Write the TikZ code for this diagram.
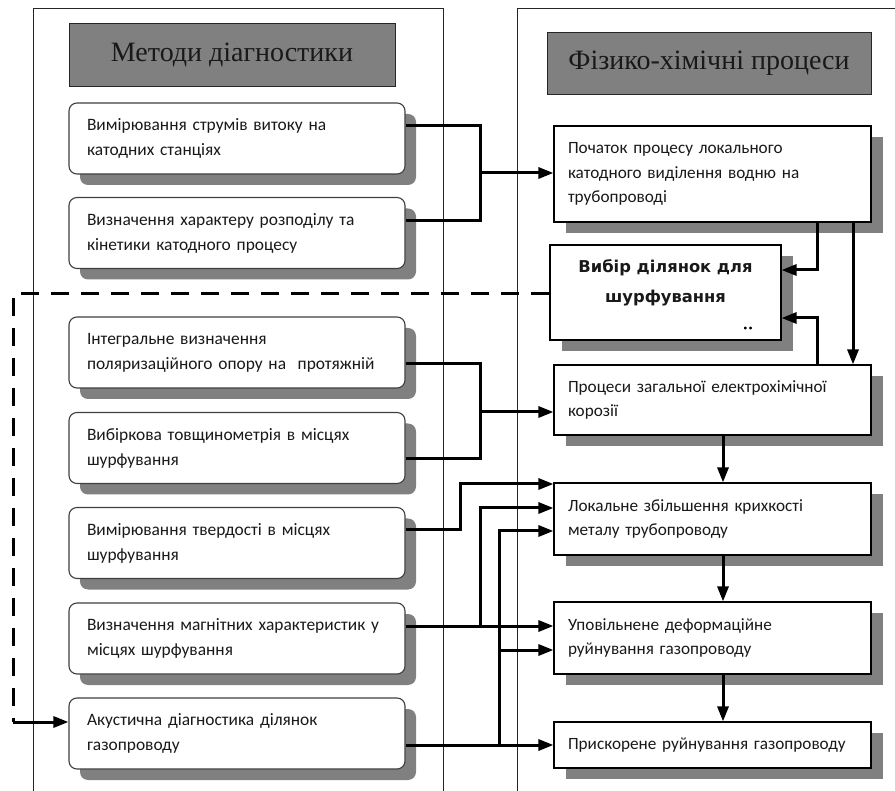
\documentclass[tikz,border=0pt]{standalone}
\usepackage{fontspec}
\setmainfont{Carlito}
\newfontfamily\hdrfont{Liberation Serif}
\newfontfamily\boldfont{DejaVu Sans}
\usetikzlibrary{shadows,arrows.meta}
\begin{document}
\begin{tikzpicture}[x=1pt,y=-1pt,
  panel/.style={draw=black!85, line width=0.9pt},
  header/.style={draw=black!85, fill=black!50, line width=0.8pt, inner sep=0pt,
    font=\hdrfont\fontsize{28}{32}\selectfont, text=black!90},
  method/.style={draw=black!75, line width=1.1pt, fill=white, rounded corners=8pt,
    minimum width=336pt, minimum height=71pt, text width=300pt, align=left,
    inner xsep=18pt, inner ysep=0pt, font=\fontsize{17.4}{25}\selectfont, text=black!90,
    drop shadow={shadow xshift=11pt, shadow yshift=-11pt, fill=black!50, opacity=1}},
  procbox/.style={draw=black, line width=1.1pt, fill=white,
    minimum width=317pt, text width=289pt, align=left,
    inner xsep=14pt, inner ysep=0pt, font=\fontsize{17.2}{24.5}\selectfont, text=black!90,
    drop shadow={shadow xshift=12pt, shadow yshift=-11pt, fill=black!50, opacity=1}},
  boldtxt/.style={align=center, inner sep=0pt, font=\boldfont\bfseries\fontsize{16.3}{30}\selectfont, text=black!90},
  wire/.style={line width=3pt},
  conn/.style={line width=3pt, -{Triangle[length=15pt,width=11pt]}},
  dashline/.style={line width=3pt, dash pattern=on 18pt off 12pt}
]
\path[clip] (0,0) rectangle (895,791);
\fill[white] (0,0) rectangle (895,791);

% panels
\draw[panel] (33,800) -- (33,8) -- (443,8) -- (443,800);
\draw[panel] (517,800) -- (517,8) -- (900,8);

% headers
\node[header, minimum width=326pt, minimum height=63pt] (H1) at (232,54.5) {Методи діагностики};
\node[header, minimum width=324pt, minimum height=62pt] (H2) at (709,63) {Фізико-хімічні процеси};

% method boxes
\node[method] (L1) at (237,138.5) {Вимірювання струмів витоку на\\катодних станціях};
\node[method] (L2) at (237,233) {Визначення характеру розподілу та\\кінетики катодного процесу};
\node[method] (L3) at (237,352.5) {Інтегральне визначення\\поляризаційного опору на~ протяжній};
\node[method] (L4) at (237,448) {Вибіркова товщинометрія в місцях\\шурфування};
\node[method] (L5) at (237,543) {Вимірювання твердості в місцях\\шурфування};
\node[method] (L6) at (237,638.5) {Визначення магнітних характеристик у\\місцях шурфування};
\node[method] (L7) at (237,733.5) {Акустична діагностика ділянок\\газопроводу};

% process boxes
\node[procbox, minimum height=96pt] (R1) at (712.5,174) {Початок процесу локального\\катодного виділення водню на\\трубопроводі};
\node[procbox, minimum width=223pt, text width=203pt, minimum height=95pt] (R2) at (665.5,292.5) {};
\node[boldtxt] (R2t) at (665.5,283) {Вибір ділянок для\\шурфування};
\node[inner sep=0pt, font=\boldfont\bfseries\fontsize{8}{8}\selectfont] (R2d) at (748,329) {••};
\node[procbox, minimum height=70pt] (R3) at (712.5,400) {Процеси загальної електрохімічної\\корозії};
\node[procbox, minimum height=72pt] (R4) at (712.5,519) {Локальне збільшення крихкості\\металу трубопроводу};
\node[procbox, minimum height=72pt] (R5) at (712.5,638) {Уповільнене деформаційне\\руйнування газопроводу};
\node[procbox, minimum height=46pt] (R6) at (712.5,745) {Прискорене руйнування газопроводу};

% junction coordinates
\coordinate (a1) at (480,126);
\coordinate (a2) at (480,221);
\coordinate (a3) at (480,173);
\coordinate (b1) at (480,364);
\coordinate (b2) at (480,459);
\coordinate (b3) at (480,412);
\coordinate (c1) at (460,530);
\coordinate (c2) at (460,484);
\coordinate (m1) at (480,626);
\coordinate (m2) at (480,508);
\coordinate (n1) at (499,745);
\coordinate (n2) at (499,531);
\coordinate (n3) at (499,650);
\coordinate (p1) at (817,270);
\coordinate (p2) at (853,0);
\coordinate (p3) at (817,318);
\coordinate (q) at (723,0);
\coordinate (d0) at (13,294);
\coordinate (d1) at (13,722);

% connectors
\draw[wire] (L1.east |- a1) -- (a1) -- (a2) -- (L2.east |- a2);
\draw[conn] (a3) -- (R1.west |- a3);
\draw[wire] (L3.east |- b1) -- (b1) -- (b2) -- (L4.east |- b2);
\draw[conn] (b3) -- (R3.west |- b3);
\draw[conn] (L5.east |- c1) -- (c1) -- (c2) -- (R4.west |- c2);
\draw[conn] (L6.east |- m1) -- (R5.west |- m1);
\draw[conn] (m1) -- (m2) -- (R4.west |- m2);
\draw[conn] (L7.east |- n1) -- (R6.west |- n1);
\draw[conn] (n1) -- (n2) -- (R4.west |- n2);
\draw[conn] (n3) -- (R5.west |- n3);
\draw[conn] (R1.south -| p1) -- (p1) -- (R2.east |- p1);
\draw[conn] (R1.south -| p2) -- (R3.north -| p2);
\draw[conn] (R3.north -| p1) -- (p3) -- (R2.east |- p3);
\draw[conn] (R3.south -| q) -- (R4.north -| q);
\draw[conn] (R4.south -| q) -- (R5.north -| q);
\draw[conn] (R5.south -| q) -- (R6.north -| q);
\draw[dashline] (R2.west |- d0) -- (d0) -- (d1);
\draw[conn] (d1) -- (L7.west |- d1);
\end{tikzpicture}
\end{document}
